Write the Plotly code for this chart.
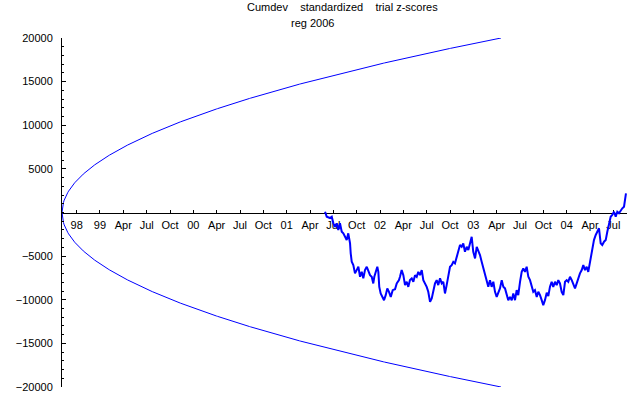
import plotly.graph_objects as go
import numpy as np

# ---- data ----
title_line1 = "Cumdev\u00a0\u00a0\u00a0\u00a0standardized\u00a0\u00a0\u00a0\u00a0trial z-scores"
title_line2 = "reg 2006"

# x tick positions (decimal years) and labels
tick_years = [1998.75, 1999.0, 1999.25, 1999.5, 1999.75,
              2000.0, 2000.25, 2000.5, 2000.75,
              2001.0, 2001.25, 2001.5, 2001.75,
              2002.0, 2002.25, 2002.5, 2002.75,
              2003.0, 2003.25, 2003.5, 2003.75,
              2004.0, 2004.25, 2004.5]
tick_labels = ["98", "99", "Apr", "Jul", "Oct",
               "00", "Apr", "Jul", "Oct",
               "01", "Apr", "Jul", "Oct",
               "02", "Apr", "Jul", "Oct",
               "03", "Apr", "Jul", "Oct",
               "04", "Apr", "Jul"]

y_tick_vals = [-20000, -15000, -10000, -5000, 5000, 10000, 15000, 20000]
y_tick_text = ["\u221220000", "\u221215000", "\u221210000", "\u22125000",
               "5000", "10000", "15000", "20000"]

# probability envelope parameters
envelope_start = 1998.593
envelope_end = 2003.296
envelope_max = 20000

# cumulative deviation
walk_year = [2001.411, 2001.429, 2001.464, 2001.483, 2001.500, 2001.518, 2001.536, 2001.553,
             2001.571, 2001.590, 2001.607, 2001.625, 2001.643, 2001.660, 2001.679, 2001.686,
             2001.697, 2001.714, 2001.732, 2001.750, 2001.768, 2001.786, 2001.804, 2001.821,
             2001.839, 2001.858, 2001.875, 2001.893, 2001.911, 2001.928, 2001.939, 2001.954,
             2001.971, 2001.982, 2001.992, 2002.007, 2002.025, 2002.043, 2002.061, 2002.078,
             2002.096, 2002.115, 2002.136, 2002.161, 2002.179, 2002.203, 2002.214, 2002.232,
             2002.250, 2002.268, 2002.286, 2002.303, 2002.321, 2002.340, 2002.357, 2002.375,
             2002.393, 2002.410, 2002.428, 2002.447, 2002.464, 2002.482, 2002.500, 2002.517,
             2002.536, 2002.554, 2002.571, 2002.589, 2002.607, 2002.624, 2002.643, 2002.661,
             2002.678, 2002.696, 2002.714, 2002.732, 2002.750, 2002.768, 2002.785, 2002.803,
             2002.822, 2002.839, 2002.857, 2002.875, 2002.892, 2002.910, 2002.929, 2002.946,
             2002.964, 2002.982, 2002.999, 2003.018, 2003.036, 2003.053, 2003.071, 2003.089,
             2003.106, 2003.125, 2003.143, 2003.160, 2003.178, 2003.196, 2003.214, 2003.232,
             2003.250, 2003.267, 2003.285, 2003.304, 2003.321, 2003.339, 2003.357, 2003.374,
             2003.393, 2003.411, 2003.428, 2003.446, 2003.464, 2003.481, 2003.500, 2003.518,
             2003.535, 2003.553, 2003.571, 2003.589, 2003.607, 2003.625, 2003.642, 2003.660,
             2003.679, 2003.696, 2003.714, 2003.732, 2003.749, 2003.767, 2003.786, 2003.803,
             2003.821, 2003.839, 2003.856, 2003.875, 2003.893, 2003.910, 2003.928, 2003.946,
             2003.964, 2003.982, 2004.000, 2004.017, 2004.035, 2004.054, 2004.071, 2004.089,
             2004.107, 2004.124, 2004.142, 2004.161, 2004.178, 2004.196, 2004.214, 2004.231,
             2004.250, 2004.260, 2004.274, 2004.292, 2004.311, 2004.328, 2004.346, 2004.364,
             2004.381, 2004.400, 2004.418, 2004.435, 2004.453, 2004.471, 2004.488, 2004.507,
             2004.525, 2004.542, 2004.560, 2004.578, 2004.596, 2004.614, 2004.624, 2004.635]
walk_cumdev = [90, -480, -630, -480, -1240, -1630, -1240, -2010,
               -1240, -2200, -2390, -2780, -3160, -2390, -3540, -4680,
               -5650, -6030, -6980, -6600, -6220, -7370, -6800, -7550,
               -6600, -6220, -6800, -7180, -7370, -8130, -7370, -6800,
               -6220, -6800, -8520, -9280, -9670, -10050, -9470, -8700,
               -9090, -9670, -8900, -8800, -8130, -7750, -7370, -6600,
               -7180, -8320, -7940, -8520, -7750, -7550, -7940, -7180,
               -7370, -6800, -7180, -6600, -7750, -8130, -8520, -9090,
               -10240, -9850, -8900, -8130, -7750, -8320, -7550, -8130,
               -7940, -9280, -8320, -7180, -6220, -6030, -5650, -5830,
               -5070, -4500, -3730, -3930, -3540, -4500, -3930, -4310,
               -3640, -2780, -4500, -5260, -3930, -4310, -4880, -5650,
               -6410, -6980, -8130, -8520, -7750, -8520, -7940, -9090,
               -9670, -9090, -8700, -7750, -8520, -8700, -9470, -10050,
               -9670, -10050, -9280, -10050, -8900, -9470, -7940, -6800,
               -6410, -6800, -6220, -7370, -7750, -8520, -9090, -8900,
               -9670, -9090, -9470, -10050, -10620, -10050, -9190, -9570,
               -8500, -7940, -8520, -7940, -8320, -7750, -8130, -9090,
               -9470, -7940, -7750, -7940, -7370, -7750, -8320, -8700,
               -8130, -7550, -6980, -6600, -6030, -6600, -6220, -6800,
               -5650, -5070, -3930, -3160, -2580, -2200, -1810, -3540,
               -3730, -3350, -3160, -2200, -1440, -480, -290, 90,
               -480, 90, -90, 290, 480, 670, 1440, 2200]

# ---- figure ----
env_x = np.linspace(envelope_start, envelope_end, 600)
env_y = envelope_max * np.sqrt((env_x - envelope_start) / (envelope_end - envelope_start))

blue = "rgb(0,0,255)"
fig = go.Figure()
fig.add_trace(go.Scatter(x=env_x, y=env_y, mode="lines",
                         line=dict(color=blue, width=1), hoverinfo="skip"))
fig.add_trace(go.Scatter(x=env_x, y=-env_y, mode="lines",
                         line=dict(color=blue, width=1), hoverinfo="skip"))
fig.add_trace(go.Scatter(x=walk_year, y=walk_cumdev, mode="lines",
                         line=dict(color=blue, width=2), hoverinfo="skip"))

font = dict(family="Liberation Sans, Arial, sans-serif", size=11, color="black")

fig.update_layout(
    width=640, height=395,
    margin=dict(l=62, r=13, t=38, b=8, autoexpand=False),
    paper_bgcolor="white", plot_bgcolor="white",
    showlegend=False,
    hovermode=False,
    font=font,
    xaxis=dict(
        range=[envelope_start, 2004.646],
        anchor="free", position=0.5,
        showline=True, linecolor="black", linewidth=1,
        ticks="inside", ticklen=3, tickcolor="black", tickwidth=1,
        tickmode="array", tickvals=tick_years, ticktext=tick_labels,
        showgrid=False, zeroline=False, automargin=False,
        tickfont=font, layer="below traces", ticklabelstandoff=2,
    ),
    yaxis=dict(
        range=[-20000, 20000],
        showline=True, linecolor="black", linewidth=1,
        ticks="inside", ticklen=4, tickcolor="black", tickwidth=1,
        tickmode="array", tickvals=y_tick_vals, ticktext=y_tick_text,
        minor=dict(tickmode="linear", tick0=0, dtick=1000,
                   ticks="inside", ticklen=2, tickcolor="black"),
        showgrid=False, zeroline=False, automargin=False,
        tickfont=font, ticklabelstandoff=6,
    ),
    annotations=[
        dict(text=title_line1, xref="paper", yref="paper", x=0.4973, y=1.0888,
             xanchor="center", yanchor="middle", showarrow=False, font=font),
        dict(text=title_line2, xref="paper", yref="paper", x=0.4425, y=1.043,
             xanchor="center", yanchor="middle", showarrow=False, font=font),
    ],
)

fig.write_html("out.html", config={"displayModeBar": False},
               post_script="document.body.style.margin='0px';")
